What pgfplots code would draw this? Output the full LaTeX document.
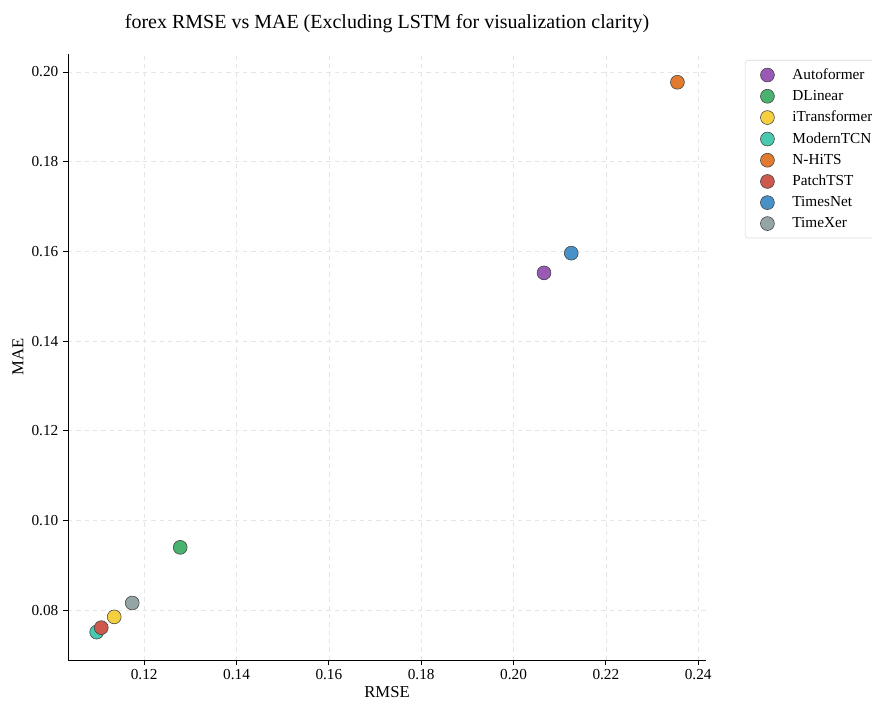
\documentclass[border=0pt]{standalone}
\usepackage{pgfplots}
\pgfplotsset{compat=1.18}
\usepackage{fontspec}
\setmainfont{Liberation Serif}
\definecolor{cAuto}{RGB}{155,89,182}
\definecolor{cDLin}{RGB}{72,178,110}
\definecolor{ciTr}{RGB}{244,208,63}
\definecolor{cMod}{RGB}{72,201,176}
\definecolor{cNH}{RGB}{226,122,48}
\definecolor{cPatch}{RGB}{205,88,76}
\definecolor{cTN}{RGB}{72,145,200}
\definecolor{cTX}{RGB}{149,165,166}
\begin{document}
\begin{tikzpicture}
\useasboundingbox (-49pt,-30.2pt) rectangle (578.9pt,475.2pt);
\clip (-49pt,-30.2pt) rectangle (578.9pt,475.2pt);
\begin{axis}[
  at={(0pt,0pt)}, anchor=south west,
  scale only axis, width=459.4pt, height=436.3pt,
  xmin=0.1035, xmax=0.2417, ymin=0.0689, ymax=0.204,
  xtick={0.12,0.14,0.16,0.18,0.20,0.22,0.24},
  ytick={0.08,0.10,0.12,0.14,0.16,0.18,0.20},
  xticklabel style={/pgf/number format/.cd,fixed,fixed zerofill,precision=2},
  yticklabel style={/pgf/number format/.cd,fixed,fixed zerofill,precision=2},
  /pgf/number format/assume math mode=true,
  ticklabel style={font=\fontsize{11}{13}\selectfont},
  axis x line*=bottom, axis y line*=left,
  axis line style={black, line width=0.6pt, -},
  tick align=outside, tick style={black, line width=0.6pt},
  major tick length=3.5pt,
  grid=major,
  grid style={dashed, gray!20, line width=0.5pt},
  xlabel={RMSE}, ylabel={MAE},
  label style={font=\fontsize{12}{14}\selectfont},
  xlabel style={yshift=2pt},
  ylabel style={yshift=-1pt},
  title={forex RMSE vs MAE (Excluding LSTM for visualization clarity)},
  title style={font=\fontsize{14.4}{16}\selectfont, yshift=6pt},
  legend style={at={(axis description cs:1,1)}, anchor=north west, xshift=28pt, yshift=-4.3pt,
    draw=gray!30, rounded corners=2pt, font=\fontsize{11}{13}\selectfont,
    row sep=2.3pt, inner sep=4pt, cells={anchor=west}},
  legend cell align=left,
  legend image code/.code={\path[draw=none,fill=none] (0pt,-4pt) rectangle (28pt,4pt); \draw[#1] (12pt,0pt) circle (5pt);},
  every axis plot/.append style={only marks, mark=*, mark size=5pt, mark options={draw=black!75, line width=0.5pt}},
]
\addplot[mark options={fill=cAuto}, draw=black!75, fill=cAuto] coordinates {(0.2066,0.1552)};
\addlegendentry{Autoformer}
\addplot[mark options={fill=cDLin}, draw=black!75, fill=cDLin] coordinates {(0.1278,0.0940)};
\addlegendentry{DLinear}
\addplot[mark options={fill=ciTr}, draw=black!75, fill=ciTr] coordinates {(0.1135,0.0785)};
\addlegendentry{iTransformer}
\addplot[mark options={fill=cMod}, draw=black!75, fill=cMod] coordinates {(0.1097,0.0751)};
\addlegendentry{ModernTCN}
\addplot[mark options={fill=cNH}, draw=black!75, fill=cNH] coordinates {(0.2355,0.1977)};
\addlegendentry{N-HiTS}
\addplot[mark options={fill=cPatch}, draw=black!75, fill=cPatch] coordinates {(0.1107,0.0761)};
\addlegendentry{PatchTST}
\addplot[mark options={fill=cTN}, draw=black!75, fill=cTN] coordinates {(0.2125,0.1596)};
\addlegendentry{TimesNet}
\addplot[mark options={fill=cTX}, draw=black!75, fill=cTX] coordinates {(0.1174,0.0816)};
\addlegendentry{TimeXer}
\end{axis}
\end{tikzpicture}
\end{document}
